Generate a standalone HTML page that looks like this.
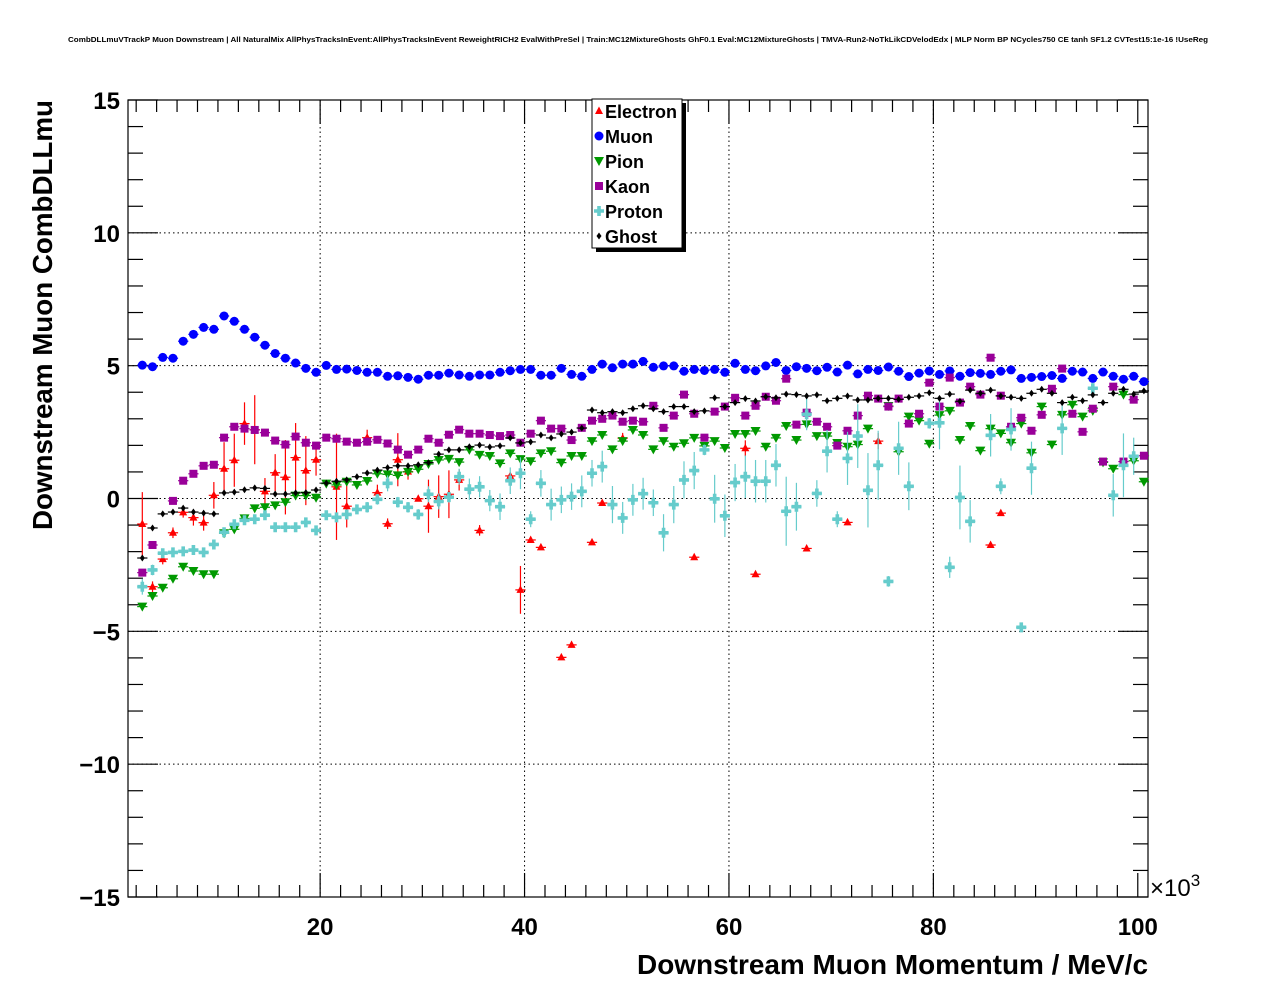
<!DOCTYPE html>
<html><head><meta charset="utf-8"><style>
html,body{margin:0;padding:0;background:#fff;}
svg{display:block;font-family:"Liberation Sans",Arial,sans-serif;}
</style></head><body>
<svg id="chart" width="1276" height="996" viewBox="0 0 1276 996" xmlns="http://www.w3.org/2000/svg">
<rect x="0" y="0" width="1276" height="996" fill="#fff"/>
<text x="638" y="42" text-anchor="middle" font-size="7.3" font-weight="bold" textLength="1140" lengthAdjust="spacingAndGlyphs">CombDLLmuVTrackP Muon Downstream | All NaturalMix AllPhysTracksInEvent:AllPhysTracksInEvent ReweightRICH2 EvalWithPreSel | Train:MC12MixtureGhosts GhF0.1 Eval:MC12MixtureGhosts | TMVA-Run2-NoTkLikCDVelodEdx | MLP Norm BP NCycles750 CE tanh SF1.2 CVTest15:1e-16 !UseReg</text>
<g id="grid"></g>
<g id="axes"></g>
<g id="marks"></g>
<text transform="translate(52,315) rotate(-90)" text-anchor="middle" font-size="28" font-weight="bold" textLength="430" lengthAdjust="spacingAndGlyphs">Downstream Muon CombDLLmu</text>
<text x="1148" y="974" text-anchor="end" font-size="28" font-weight="bold" textLength="511" lengthAdjust="spacingAndGlyphs">Downstream Muon Momentum / MeV/c</text>
<text x="1150" y="896" font-size="24">×10<tspan dy="-10" font-size="17">3</tspan></text>
<g id="legend"></g>
</svg>
<script>
const xTicks=[20,40,60,80,100];
const yTicks=[-15,-10,-5,0,5,10,15];
const electron=[-0.96,-3.32,-2.28,-1.29,-0.52,-0.72,-0.91,0.12,1.12,1.44,2.82,2.59,0.27,0.97,0.80,1.54,1.05,1.46,null,0.44,-0.29,null,2.29,0.22,-0.95,1.46,1.01,-0.01,-0.29,0.07,0.16,0.70,null,-1.20,null,null,0.85,-3.44,-1.56,-1.84,null,-5.98,-5.51,null,-1.65,-0.17,null,2.27,null,null,null,null,null,null,-2.21,null,null,null,null,1.89,-2.85,null,null,null,null,-1.88,null,null,null,-0.90,null,null,2.16,null,null,null,null,null,null,null,null,null,null,-1.75,-0.55];
const electronErr=[1.2,0.2,0.2,0.2,0.2,0.3,0.3,0.5,1.0,1.0,0.8,1.3,0.5,0.7,1.4,1.3,1.3,0.6,0,2.0,0.8,0,0.3,0.3,0.2,1.0,0.3,0.1,1.0,0.8,0.9,0.4,0,0.2,0,0,0.1,0.9,0.1,0.1,0,0.1,0.1,0,0.1,0.1,0,0.2,0,0,0,0,0,0,0.1,0,0,0,0,0.3,0.1,0,0,0,0,0.1,0,0,0,0.1,0,0,0.3,0,0,0,0,0,0,0,0,0,0,0.1,0.1];
const muon=[5.02,4.96,5.31,5.28,5.92,6.18,6.44,6.37,6.87,6.67,6.37,6.07,5.77,5.46,5.28,5.10,4.90,4.75,5.01,4.86,4.87,4.82,4.75,4.75,4.60,4.62,4.56,4.49,4.64,4.64,4.72,4.65,4.60,4.65,4.65,4.75,4.81,4.86,4.86,4.64,4.64,4.90,4.67,4.60,4.86,5.06,4.92,5.06,5.06,5.16,4.94,4.99,4.99,4.79,4.86,4.82,4.86,4.75,5.09,4.86,4.81,4.99,5.12,4.82,4.96,4.90,4.81,4.94,4.76,5.02,4.69,4.86,4.82,4.95,4.79,4.59,4.72,4.80,4.67,4.80,4.60,4.74,4.71,4.67,4.79,4.84,4.52,4.56,4.59,4.63,4.52,4.79,4.76,4.52,4.76,4.60,4.49,4.60,4.40];
const pion=[-4.07,-3.67,-3.36,-3.02,-2.57,-2.73,-2.85,-2.85,-1.31,-1.16,-0.75,-0.37,-0.33,-0.26,-0.14,0.11,0.11,0.03,0.56,0.51,0.63,0.51,0.66,0.93,0.91,0.87,1.00,1.10,1.30,1.45,1.49,1.37,1.83,1.64,1.60,1.32,1.70,1.48,1.40,1.70,1.78,1.35,1.60,1.60,2.16,2.39,1.85,2.16,2.58,2.39,1.85,2.16,1.95,2.08,2.28,1.98,2.16,1.90,2.43,2.43,2.54,1.95,2.28,2.73,2.20,2.79,2.35,2.35,2.09,1.95,2.03,2.63,null,3.48,1.76,3.08,2.93,2.06,3.14,3.30,2.20,2.73,1.80,2.63,2.45,2.10,2.82,1.72,3.46,2.03,3.15,3.53,3.08,3.30,1.36,1.12,3.91,1.42,0.63];
const kaon=[-2.79,-1.75,null,-0.09,0.67,0.93,1.23,1.27,2.29,2.70,2.63,2.58,2.48,2.18,2.03,2.33,2.10,1.99,2.29,2.25,2.14,2.10,2.14,2.21,2.07,1.84,1.65,1.84,2.25,2.10,2.40,2.59,2.44,2.44,2.39,2.35,2.39,2.10,2.44,2.93,2.63,2.63,2.20,2.66,2.93,3.00,3.12,2.89,2.93,2.89,3.49,2.66,3.12,3.91,3.19,2.29,3.27,3.46,3.79,3.12,3.49,3.83,3.68,4.51,2.78,3.23,2.89,2.70,1.99,2.55,3.12,3.87,3.76,3.46,3.76,2.82,3.19,4.36,3.46,4.55,3.61,4.21,3.91,5.30,3.87,2.70,3.04,2.55,3.15,4.13,4.89,3.19,2.51,3.38,1.39,4.21,1.39,3.72,1.61];
const proton=[-3.32,-2.69,-2.06,-2.03,-1.99,-1.94,-2.03,-1.73,-1.27,-0.97,-0.82,-0.78,-0.63,-1.08,-1.08,-1.08,-0.90,-1.20,-0.63,-0.71,-0.60,-0.41,-0.33,-0.03,0.57,-0.14,-0.33,-0.60,0.16,-0.11,0.05,0.82,0.35,0.44,-0.08,-0.31,0.67,0.95,-0.78,0.57,-0.23,-0.05,0.07,0.27,0.95,1.20,-0.23,-0.73,-0.05,0.18,-0.16,-1.29,-0.23,0.70,1.05,1.83,-0.01,-0.65,0.60,0.82,0.65,0.65,1.25,-0.48,-0.31,3.17,0.19,1.78,-0.78,1.51,2.35,0.31,1.25,-3.12,1.89,0.46,null,2.83,2.85,-2.59,0.04,-0.86,null,2.38,0.46,2.60,-4.85,1.14,null,null,2.64,null,null,4.15,null,0.12,1.25,1.59,null];
const protonErr=[0.3,0.2,0.1,0.1,0.1,0.1,0.1,0.1,0.1,0.1,0.1,0.1,0.1,0.1,0.1,0.1,0.1,0.1,0.1,0.1,0.1,0.1,0.2,0.2,0.3,0.2,0.2,0.2,0.3,0.3,0.2,0.3,0.4,0.4,0.4,0.5,0.5,0.6,0.3,0.5,0.6,0.5,0.5,0.6,0.5,0.6,0.7,0.6,0.6,0.6,0.5,0.7,0.7,0.7,0.7,0.2,0.9,0.8,0.7,0.8,0.8,0.8,0.8,1.3,0.9,0.6,0.5,0.8,0.3,1.0,1.2,1.4,1.3,0.2,1.0,0.9,0,0.2,1.0,0.4,1.2,0.8,0,0.8,0.3,0.8,0.1,1.0,0,0,1.0,0,0,0.2,0,0.8,1.2,0.7,0];
const ghost=[-2.24,-1.11,-0.58,-0.51,-0.36,-0.51,-0.55,-0.58,0.21,0.24,0.33,0.40,0.38,0.17,0.17,0.21,0.22,0.32,0.58,0.65,0.70,0.82,0.96,1.07,1.16,1.23,1.23,1.27,1.35,1.67,1.83,1.83,1.95,2.01,1.94,1.98,2.28,2.09,2.13,2.39,2.28,2.43,2.50,2.65,3.33,3.23,3.27,3.23,3.38,3.49,3.38,3.27,3.46,3.46,3.27,3.30,3.79,3.46,3.61,3.76,3.67,3.83,3.79,3.93,3.91,3.86,3.90,3.68,3.77,3.86,3.71,3.71,3.77,3.77,3.73,3.81,3.86,3.98,3.77,3.93,3.66,4.08,3.96,4.08,3.86,3.81,3.77,3.96,4.11,3.96,3.61,3.81,3.68,3.90,3.61,3.96,4.11,3.93,4.05];
const seriesNames=["Electron","Muon","Pion","Kaon","Proton","Ghost"];
const seriesColors=["#ff0000","#0000ff","#009900","#990099","#66cccc","#000000"];
const firstBinCenter=2.6, binWidth=1.0;

const NS="http://www.w3.org/2000/svg";
const L=128,R=1148,T=100,B=897,X0=1.2,X1=101,Y0=-15,Y1=15;
const sx=v=>L+(v-X0)/(X1-X0)*(R-L);
const sy=v=>B-(v-Y0)/(Y1-Y0)*(B-T);
function mk(tag,attrs,parent){const e=document.createElementNS(NS,tag);for(const k in attrs)e.setAttribute(k,attrs[k]);parent.appendChild(e);return e;}
const grid=document.getElementById('grid'),axes=document.getElementById('axes'),marks=document.getElementById('marks'),legend=document.getElementById('legend');
xTicks.forEach(t=>{if(t<100){const g=mk('line',{x1:sx(t),x2:sx(t),y1:T,y2:B,stroke:'#000','stroke-width':1,'stroke-dasharray':'1.5,3'},grid);

}});
yTicks.forEach(t=>{if(t>-15&&t<15){const g=mk('line',{x1:L,x2:R,y1:sy(t),y2:sy(t),stroke:'#000','stroke-width':1,'stroke-dasharray':'1.5,3'},grid);

}});
const frame=mk('rect',{x:L,y:T,width:R-L,height:B-T,fill:'none',stroke:'#000','stroke-width':1.2},axes);


for(let v=-15;v<=15;v++){const len=(v%5===0)?30:15;
mk('line',{x1:L,x2:L+len,y1:sy(v),y2:sy(v),stroke:'#000','stroke-width':1.2},axes);
mk('line',{x1:R,x2:R-len,y1:sy(v),y2:sy(v),stroke:'#000','stroke-width':1.2},axes);}
yTicks.forEach(t=>{const tx=mk('text',{x:L-8,y:sy(t)+9,'text-anchor':'end','font-size':24,'font-weight':'bold'},axes);


tx.textContent=(t<0?'\u2212'+(-t):String(t));});
for(let v=2;v<=100;v+=2){const len=(v%20===0)?24:12;
mk('line',{x1:sx(v),x2:sx(v),y1:B,y2:B-len,stroke:'#000','stroke-width':1.2},axes);
mk('line',{x1:sx(v),x2:sx(v),y1:T,y2:T+len,stroke:'#000','stroke-width':1.2},axes);}
xTicks.forEach(t=>{const tx=mk('text',{x:sx(t),y:935,'text-anchor':'middle','font-size':24,'font-weight':'bold'},axes);


tx.textContent=String(t);});

function marker(kind,cx,cy,col,parent){
  if(kind===0) return mk('polygon',{points:`${cx},${cy-4.5} ${cx-4},${cy+3} ${cx+4},${cy+3}`,fill:col},parent);
  if(kind===1) return mk('circle',{cx:cx,cy:cy,r:4.5,fill:col},parent);
  if(kind===2) return mk('polygon',{points:`${cx-5},${cy-4} ${cx+5},${cy-4} ${cx},${cy+5}`,fill:col},parent);
  if(kind===3) return mk('rect',{x:cx-4,y:cy-4,width:8,height:8,fill:col},parent);
  if(kind===4) return mk('path',{d:`M${cx-1.8},${cy-5}h3.6v3.2h3.2v3.6h-3.2v3.2h-3.6v-3.2h-3.2v-3.6h3.2z`,fill:col},parent);
  return mk('polygon',{points:`${cx},${cy-3.5} ${cx+2.5},${cy} ${cx},${cy+3.5} ${cx-2.5},${cy}`,fill:col},parent);
}
const allSeries=[electron,muon,pion,kaon,proton,ghost];
const allErr=[electronErr,null,null,null,protonErr,null];
const seriesKeys=['electron','muon','pion','kaon','proton','ghost'];
allSeries.forEach((arr,si)=>{
  const g=mk('g',{},marks);
  
  
  const col=seriesColors[si];
  const err=allErr[si];
  arr.forEach((v,i)=>{
    if(v===null||v===undefined)return;
    const xc=firstBinCenter+i*binWidth, cx=sx(xc), cy=sy(v);
    mk('line',{x1:sx(xc-binWidth/2),x2:sx(xc+binWidth/2),y1:cy,y2:cy,stroke:col,'stroke-width':1.2},g);
    if(err&&err[i]>0){mk('line',{x1:cx,x2:cx,y1:sy(v-err[i]),y2:sy(v+err[i]),stroke:col,'stroke-width':1.2},g);}
    const m=marker(si,cx,cy,col,g);
    
    
  });
});
const lb=mk('rect',{x:596,y:103,width:90,height:149,fill:'#000'},legend);


const lbox=mk('rect',{x:592,y:99,width:90,height:149,fill:'#fff',stroke:'#000','stroke-width':1},legend);


seriesNames.forEach((n,i)=>{
  const y=111+i*25;
  const g=mk('g',{},legend);
  
  
  marker(i,599,y,seriesColors[i],g);
  const t=mk('text',{x:605,y:y+7,'font-size':18,'font-weight':'bold'},g);
  t.textContent=n;
});
</script>
</body></html>
